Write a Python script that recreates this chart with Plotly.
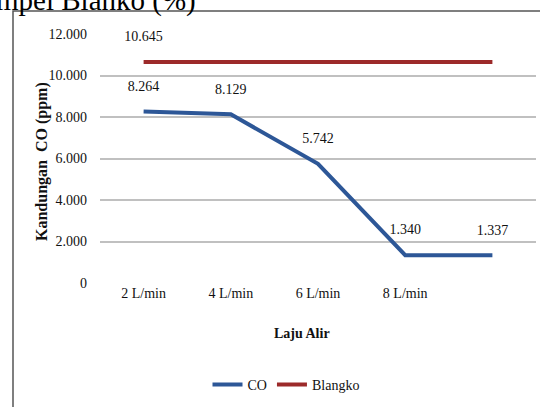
import plotly.graph_objects as go

categories = ["2 L/min", "4 L/min", "6 L/min", "8 L/min", ""]
co_values = [8264, 8129, 5742, 1340, 1337]
blangko_values = [10645, 10645, 10645, 10645, 10645]
co_labels = ["8.264", "8.129", "5.742", "1.340", "1.337"]
blangko_labels = ["10.645", "", "", "", ""]
y_tick_vals = [0, 2000, 4000, 6000, 8000, 10000, 12000]
y_tick_text = ["0", "2.000", "4.000", "6.000", "8.000", "10.000", "12.000"]

W, H = 540, 407
# plot area in page pixels
PL, PR, PT, PB = 100, 536, 34, 283
L = PL
R = W - PR
T = PT
B = H - PB
pw, ph = PR - PL, PB - PT

def px_x(p):
    return (p - PL) / pw

def px_y(p):
    return (PB - p) / ph

FONT = "Liberation Serif"
xs = list(range(len(categories)))

fig = go.Figure()
fig.add_trace(go.Scatter(
    x=xs, y=co_values, name="CO", mode="lines+markers+text",
    line=dict(color="#2D5797", width=4),
    marker=dict(size=26, color="rgba(0,0,0,0)"),
    text=co_labels, textposition="top center", cliponaxis=False,
    textfont=dict(family=FONT, size=14, color="#111"),
))
fig.add_trace(go.Scatter(
    x=xs, y=blangko_values, name="Blangko", mode="lines+markers+text",
    line=dict(color="#9C2A2A", width=4),
    marker=dict(size=26, color="rgba(0,0,0,0)"),
    text=blangko_labels, textposition="top center", cliponaxis=False,
    textfont=dict(family=FONT, size=14, color="#111"),
))

fig.update_layout(
    width=W, height=H,
    margin=dict(l=L, r=R, t=T, b=B, autoexpand=False),
    paper_bgcolor="white", plot_bgcolor="white",
    font=dict(family=FONT, size=14, color="#111"),
    showlegend=True,
    legend=dict(orientation="h", x=px_x(286), xanchor="center",
                y=px_y(385), yanchor="middle",
                font=dict(family=FONT, size=14, color="#111"),
                itemwidth=30, tracegroupgap=0),
    xaxis=dict(range=[-0.5, 4.5], tickvals=xs, ticktext=categories,
               showgrid=False, zeroline=False, showline=False, ticks="",
               automargin=False,
               tickfont=dict(family=FONT, size=14, color="#111")),
    yaxis=dict(range=[0, 12000], tickvals=y_tick_vals, ticktext=y_tick_text,
               showgrid=True, gridcolor="#C0C0C0", gridwidth=1.5,
               zeroline=False, showline=False, ticks="",
               ticklabelstandoff=12, automargin=False,
               tickfont=dict(family=FONT, size=14, color="#111")),
)

fig.add_shape(type="rect", xref="paper", yref="paper",
              x0=px_x(13), x1=px_x(560), y0=px_y(430), y1=px_y(11),
              line=dict(color="#555555", width=1.5), fillcolor="rgba(0,0,0,0)",
              layer="below")

fig.add_annotation(text="<b>Kandungan  CO (ppm)</b>", xref="paper", yref="paper",
                   x=px_x(42), y=px_y(162), xanchor="center", yanchor="middle",
                   textangle=-90, showarrow=False,
                   font=dict(family=FONT, size=16, color="#111"))
fig.add_annotation(text="<b>Laju Alir</b>", xref="paper", yref="paper",
                   x=px_x(302), y=px_y(334), xanchor="center", yanchor="middle",
                   showarrow=False,
                   font=dict(family=FONT, size=14, color="#111"))
fig.add_annotation(text="Sampel Blanko (%)", xref="paper", yref="paper",
                   x=px_x(198), y=px_y(19), xanchor="right", yanchor="bottom",
                   showarrow=False,
                   font=dict(family=FONT, size=29, color="#000"))

fig.write_html("out.html", config={"displayModeBar": False},
               post_script="document.body.style.margin='0';document.body.style.padding='0';")
